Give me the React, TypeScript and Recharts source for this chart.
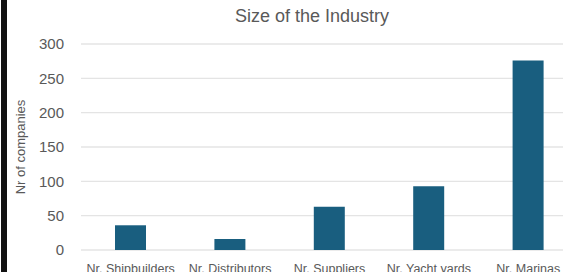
import { Bar, BarChart, CartesianGrid, XAxis, YAxis } from "recharts";

const categories = [
  "Nr. Shipbuilders",
  "Nr. Distributors",
  "Nr. Suppliers",
  "Nr. Yacht yards",
  "Nr. Marinas",
];
const companies = [36, 16, 63, 93, 276];
const yTicks = [0, 50, 100, 150, 200, 250, 300];

const data = categories.map((name, i) => ({ name, value: companies[i] }));

const FONT = "'Liberation Sans', Arial, sans-serif";
const GREY = "#595959";

export default function App() {
  return (
    <div
      style={{
        position: "absolute",
        left: 0,
        top: 0,
        width: 563,
        height: 272,
        overflow: "hidden",
        background: "#fff",
        fontFamily: FONT,
      }}
    >
      <div
        style={{
          position: "absolute",
          left: 1,
          top: 0,
          width: 6,
          height: 272,
          background: "#111",
        }}
      />
      <div
        style={{
          position: "absolute",
          left: 212,
          width: 200,
          top: 6,
          textAlign: "center",
          fontSize: 18,
          color: GREY,
        }}
      >
        Size of the Industry
      </div>
      <div style={{ position: "absolute", left: 0, top: 0 }}>
        <BarChart
          width={590}
          height={290}
          data={data}
          margin={{ top: 44, right: 12, bottom: 0, left: 0 }}
          barSize={31}
        >
          <CartesianGrid vertical={false} stroke="#e4e4e4" strokeWidth={1.3} />
          <XAxis
            dataKey="name"
            height={40}
            axisLine={false}
            tickLine={false}
            tickSize={0}
            tickMargin={14}
            interval={0}
            tick={{ fill: GREY, fontSize: 12.5, fontFamily: FONT }}
          />
          <YAxis
            width={81}
            domain={[0, 300]}
            ticks={yTicks}
            axisLine={false}
            tickLine={false}
            tickSize={0}
            tickMargin={17}
            tick={{ fill: GREY, fontSize: 15, fontFamily: FONT }}
            label={{
              value: "Nr of companies",
              angle: -90,
              position: "insideLeft",
              offset: 20,
              style: { textAnchor: "middle", fill: GREY, fontSize: 13, fontFamily: FONT },
            }}
          />
          <Bar dataKey="value" fill="#195e7f" isAnimationActive={false} />
        </BarChart>
      </div>
    </div>
  );
}
